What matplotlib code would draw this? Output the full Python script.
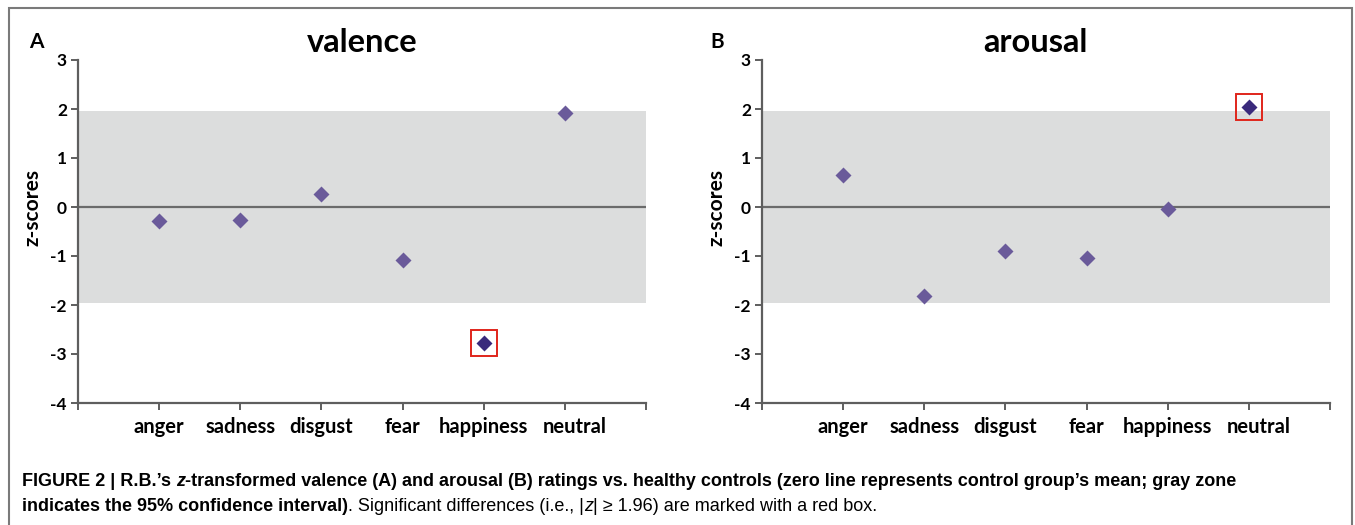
import matplotlib.pyplot as plt
from matplotlib.patches import Rectangle
from matplotlib.transforms import ScaledTranslation

# data
categories = ["anger", "sadness", "disgust", "fear", "happiness", "neutral"]
valence = [-0.29, -0.26, 0.26, -1.09, -2.77, 1.92]
arousal = [0.65, -1.82, -0.89, -1.05, -0.05, 2.05]
ci_limit = 1.96
y_ticks = [3, 2, 1, 0, -1, -2, -3, -4]

W, H = 1355, 525
fig = plt.figure(figsize=(W / 100, H / 100), dpi=100)

CHART_FONT = ["Lato", "DejaVu Sans"]
CAP_FONT = ["Liberation Sans", "DejaVu Sans"]
SPINE = "#5e5e5e"
NORMAL = "#6a5a9a"
SIGNIF = "#3a2a7c"


def px_axes(left, top, right, bottom):
    return fig.add_axes([left / W, 1 - bottom / H, (right - left) / W, (bottom - top) / H])


def panel(ax, values, title, letter, title_x, letter_x):
    n = len(categories)
    xs = list(range(1, n + 1))
    ax.set_xlim(0, n + 1)
    ax.set_ylim(-4, 3)
    ax.axhspan(-ci_limit, ci_limit, xmin=0, xmax=1, color="#dcdddd", lw=0, zorder=0)
    ax.axhline(0, color="#6b6b6b", lw=1.6, zorder=1)

    for x, v in zip(xs, values):
        sig = abs(v) >= ci_limit
        ax.plot(x, v, marker="D", ms=8.5, color=SIGNIF if sig else NORMAL,
                mec="none", zorder=3)
        if sig:
            ax.plot(x, v, marker="s", ms=19, mfc="none", mec="#e0251b", mew=1.4, zorder=4)

    for s in ("top", "right"):
        ax.spines[s].set_visible(False)
    for s in ("left", "bottom"):
        ax.spines[s].set_color(SPINE)
        ax.spines[s].set_linewidth(1.6)
    ax.set_facecolor("none")

    ax.set_yticks(y_ticks)
    ax.set_yticklabels([str(t) for t in y_ticks], fontfamily=CHART_FONT,
                       fontweight="bold", fontsize=12.5)
    ax.set_xticks(range(0, n + 2))
    ax.set_xticklabels([""] + categories + [""], fontfamily=CHART_FONT,
                       fontweight="bold", fontsize=14.5)
    ax.tick_params(axis="both", direction="out", length=5, width=1.4, color=SPINE)
    ax.tick_params(axis="y", pad=3)
    ax.tick_params(axis="x", pad=5)
    # the last category label sits a bit right of its tick, as in the original
    last = ax.get_xticklabels()[n]
    last.set_transform(last.get_transform() + ScaledTranslation(0.1, 0, fig.dpi_scale_trans))
    ax.set_ylabel("z-scores", fontfamily=CHART_FONT, fontweight="bold", fontsize=15)
    ax.yaxis.set_label_coords(-0.062, 0.571)

    fig.text(title_x / W, 1 - 42 / H, title, fontfamily=CHART_FONT, fontweight="bold",
             fontsize=23.5, ha="center", va="center")
    fig.text(letter_x / W, 1 - 42 / H, letter, fontfamily=CHART_FONT, fontweight="bold",
             fontsize=15, ha="left", va="center")


ax_a = px_axes(78, 60, 646, 403)
ax_b = px_axes(762, 60, 1330, 403)
panel(ax_a, valence, "valence", "A", 362, 29)
panel(ax_b, arousal, "arousal", "B", 1035, 710)

# outer frame of the figure panel
fig.patches.append(Rectangle((9 / W, -0.1), (1352 - 9) / W, 1.1 - 8 / H,
                             transform=fig.transFigure, fill=False,
                             ec="#7a7a7a", lw=1.5, zorder=10))

# caption, built from bold / regular / italic pieces
fig.canvas.draw()
renderer = fig.canvas.get_renderer()
inv = fig.transFigure.inverted()


def caption_line(pieces, x0, y):
    x = x0 / W
    for txt, weight, style in pieces:
        t = fig.text(x, 1 - y / H, txt, fontfamily=CAP_FONT, fontsize=13,
                     fontweight=weight, fontstyle=style, ha="left", va="baseline")
        bb = t.get_window_extent(renderer)
        x = inv.transform((bb.x1, bb.y0))[0]


caption_line([
    ("FIGURE 2 | R.B.\u2019s ", "bold", "normal"),
    ("z", "bold", "italic"),
    ("-transformed valence (A) and arousal (B) ratings vs. healthy controls "
     "(zero line represents control group\u2019s mean; gray zone", "bold", "normal"),
], 22, 486)
caption_line([
    ("indicates the 95% confidence interval)", "bold", "normal"),
    (". Significant differences (i.e., |", "normal", "normal"),
    ("z", "normal", "italic"),
    ("| \u2265 1.96) are marked with a red box.", "normal", "normal"),
], 22, 511)

fig.savefig("out.png", dpi=100)
